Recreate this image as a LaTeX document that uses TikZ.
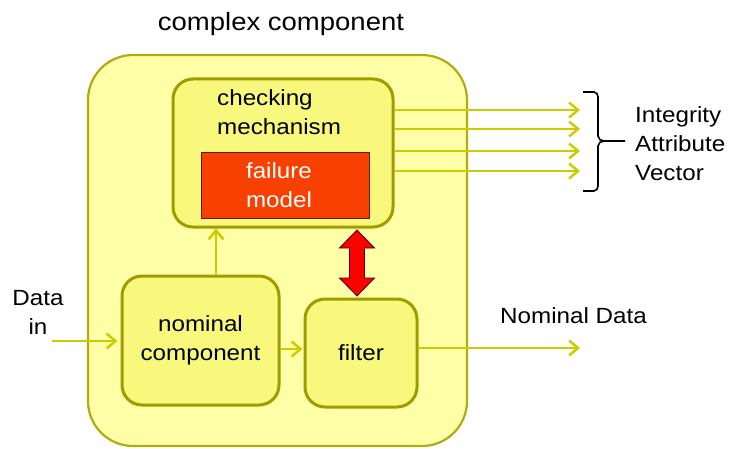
\documentclass[tikz,border=0pt]{standalone}
\usepackage{fontspec}
\setmainfont{Liberation Sans}[FakeStretch=1.1]
\usetikzlibrary{arrows.meta,calc}
\definecolor{outerfill}{HTML}{FFFFA8}
\definecolor{innerfill}{HTML}{F8F87C}
\definecolor{outerc}{HTML}{B0AC10}
\definecolor{boxc}{HTML}{A09C00}
\definecolor{arrc}{HTML}{CCCC00}
\definecolor{fmred}{HTML}{F84000}
\begin{document}
\begin{tikzpicture}[x=1pt,y=-1pt,
  every node/.style={font=\fontsize{22}{29}\selectfont},
  box/.style={draw=boxc, line width=3pt, fill=innerfill, rounded corners=20pt},
  arr/.style={draw=arrc, line width=2.5pt, -{Straight Barb[length=9pt,width=15pt,line width=2.5pt]}},
  txt/.style={inner sep=0pt, align=left, anchor=north west},
]
\useasboundingbox (0,0) rectangle (735,449);
\node[draw=outerc, line width=2.2pt, fill=outerfill, rounded corners=45pt,
      minimum width=379pt, minimum height=391pt] (outer) at (277.5,250.5) {};
\node[font=\fontsize{25}{30}\selectfont, anchor=base] (title) at (281,31) {complex component};

\node[box, minimum width=220pt, minimum height=148pt] (chk) at (283,153) {};
\node[txt] (chktxt) at (217,89) {checking\\mechanism};
\node[draw=black!60!fmred, line width=0.8pt, fill=fmred,
      minimum width=168pt, minimum height=66pt] (fm) at (285,185) {};
\node[text=white, align=center] (fmtxt) at (279,185) {failure\\model};

\node[box, align=center, minimum width=157pt, minimum height=129pt] (nom) at (200.5,340.5) {nominal\\component};
\node[box, align=center, minimum width=112pt, minimum height=108pt] (filt) at (361,353) {filter};

\node[align=center, inner sep=0pt] (din) at (38,312) {Data\\in};
\node[inner sep=0pt, anchor=base west] (ndata) at (500,323) {Nominal Data};
\node[txt] (iav) at (635,106) {Integrity\\Attribute\\Vector};

% data in
\coordinate (dinS) at (52,341);
\draw[arr] (dinS) -- ([xshift=-3pt]dinS -| nom.west);
% nominal -> filter
\coordinate (nf) at (0,349);
\draw[arr] (nf -| nom.east) -- ([xshift=-1pt]nf -| filt.west);
% nominal -> checking
\coordinate (upx) at (216,0);
\draw[arr] (upx |- nom.north) -- (upx |- chk.south);
% filter -> out
\coordinate (nout) at (580,348);
\draw[arr] (nout -| filt.east) -- (nout);
% integrity outputs
\foreach \yy [count=\i] in {110,129,151,171} {
  \coordinate (o\i) at (580,\yy);
  \draw[arr] (o\i -| chk.east) -- (o\i);
}
% red double arrow between checking and filter
\coordinate (ra) at (357,230);
\coordinate (rb) at (357,296);
\draw[draw=black!70!red, line width=0.8pt, fill=red]
  (ra) -- ++(17.5,18) -- ++(-10,0) |- ($(rb)+(7.5,-18)$) -- ++(10,0) -- (rb)
  -- ++(-17.5,-18) -- ++(10,0) |- ($(ra)+(-7.5,18)$) -- ++(-10,0) -- cycle;
% brace
\coordinate (bt) at (583,92);
\coordinate (bb) at (583,191);
\coordinate (bm) at (625,141);
\draw[line width=1.6pt, black]
  (bt) -- (594,92) to[out=0,in=90] (598,97) -- (598,136) to[out=-90,in=180] (604,141) -- (bm);
\draw[line width=1.6pt, black]
  (bb) -- (594,191) to[out=0,in=-90] (598,186) -- (598,146) to[out=90,in=180] (604,141);
\end{tikzpicture}
\end{document}
